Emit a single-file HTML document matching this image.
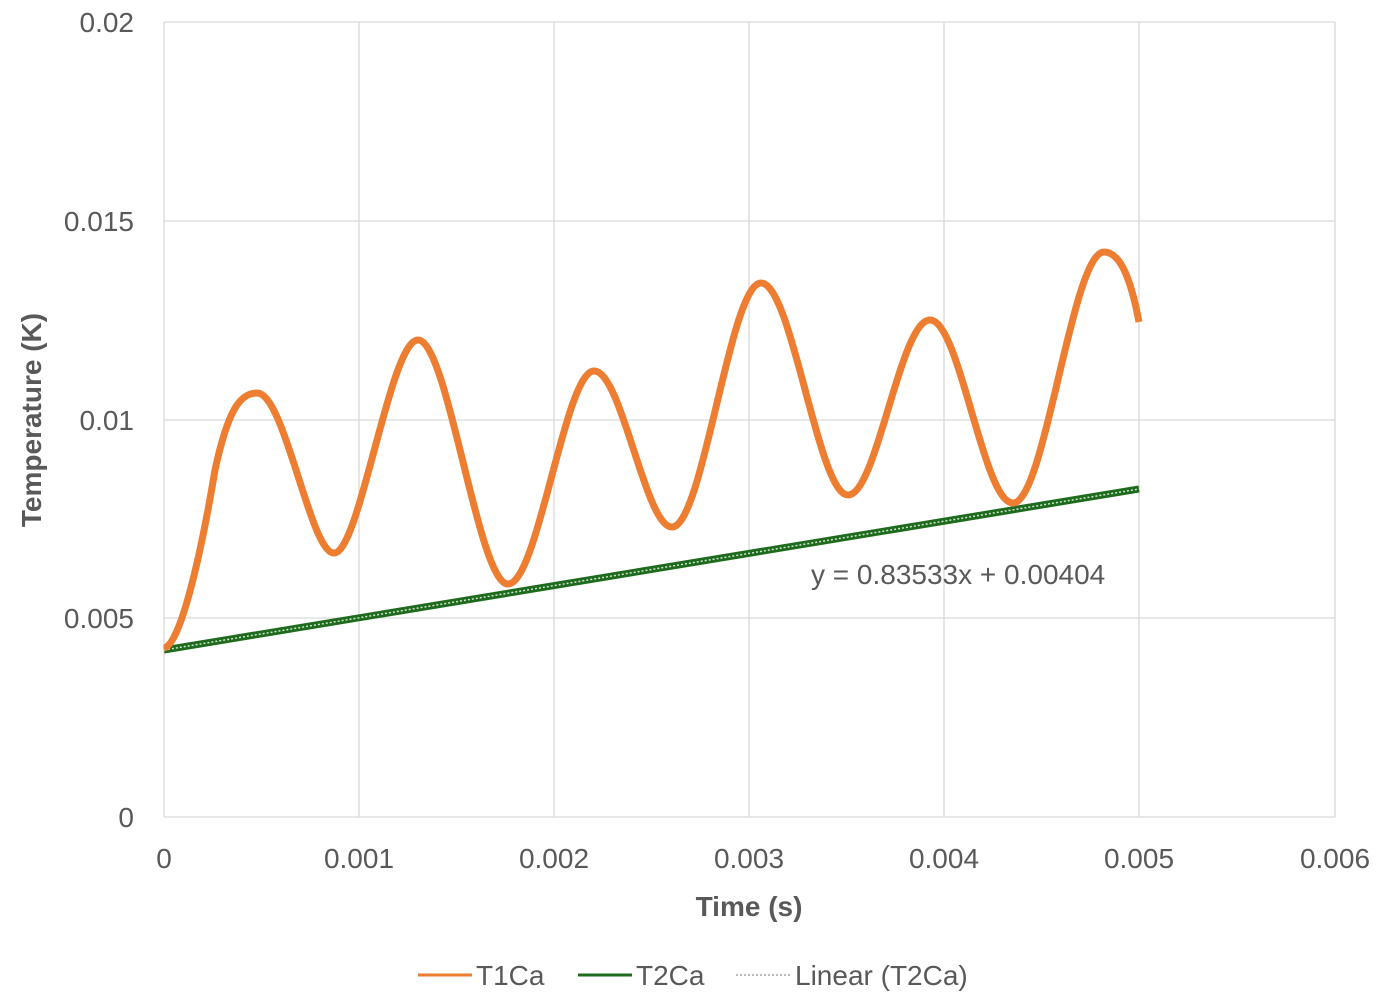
<!DOCTYPE html>
<html><head><meta charset="utf-8"><style>
body{margin:0;background:#fff}
svg{display:block}
text{font-family:"Liberation Sans",sans-serif;fill:#595959}
</style></head><body>
<svg width="1383" height="1005" viewBox="0 0 1383 1005" xmlns="http://www.w3.org/2000/svg">
<g stroke="#d9d9d9" stroke-width="1.3" fill="none">
<line x1="164" y1="22" x2="1335" y2="22"/>
<line x1="164" y1="221" x2="1335" y2="221"/>
<line x1="164" y1="420" x2="1335" y2="420"/>
<line x1="164" y1="618" x2="1335" y2="618"/>
<line x1="164" y1="817" x2="1335" y2="817"/>
<line x1="164" y1="22" x2="164" y2="817"/>
<line x1="359" y1="22" x2="359" y2="817"/>
<line x1="554" y1="22" x2="554" y2="817"/>
<line x1="749" y1="22" x2="749" y2="817"/>
<line x1="944" y1="22" x2="944" y2="817"/>
<line x1="1139" y1="22" x2="1139" y2="817"/>
<line x1="1335" y1="22" x2="1335" y2="817"/>
</g>
<g font-size="28" text-anchor="end">
<text x="134" y="32">0.02</text>
<text x="134" y="231">0.015</text>
<text x="134" y="430">0.01</text>
<text x="134" y="628">0.005</text>
<text x="134" y="827">0</text>
</g>
<g font-size="28" text-anchor="middle">
<text x="164" y="868">0</text>
<text x="359" y="868">0.001</text>
<text x="554" y="868">0.002</text>
<text x="749" y="868">0.003</text>
<text x="944" y="868">0.004</text>
<text x="1139" y="868">0.005</text>
<text x="1335" y="868">0.006</text>
</g>
<text x="749" y="916" font-size="28" font-weight="bold" text-anchor="middle">Time (s)</text>
<text transform="translate(41,420) rotate(-90)" font-size="28" font-weight="bold" text-anchor="middle">Temperature (K)</text>
<line x1="164" y1="650" x2="1139" y2="489" stroke="#1e6b1e" stroke-width="7"/>
<line x1="164" y1="650" x2="1139" y2="489" stroke="#cfe3cf" stroke-width="1.5" stroke-dasharray="2 2"/>
<path d="M164,648 C180,645 200,560 215,470 C228,410 240,393 257,393 C285,393 310,553 334,553 C360,553 390,340 418,340 C448,340 478,584 508,584 C538,584 565,371 594,371 C622,371 645,527 672,527 C703,527 730,283 761,283 C792,283 818,495 848,495 C877,495 900,320 930,320 C960,320 983,503 1013,503 C1045,503 1072,252 1104,252 C1122,252 1132,285 1139,322" fill="none" stroke="#ed7d31" stroke-width="7"/>
<text x="811" y="584" font-size="28">y = 0.83533x + 0.00404</text>
<line x1="418" y1="975" x2="472" y2="975" stroke="#ed7d31" stroke-width="3"/>
<text x="476" y="985" font-size="28">T1Ca</text>
<line x1="578" y1="975" x2="632" y2="975" stroke="#1e6b1e" stroke-width="3"/>
<text x="636" y="985" font-size="28">T2Ca</text>
<line x1="736" y1="975" x2="790" y2="975" stroke="#bbb" stroke-width="2" stroke-dasharray="2 2"/>
<text x="795" y="985" font-size="28">Linear (T2Ca)</text>
</svg>
</body></html>
